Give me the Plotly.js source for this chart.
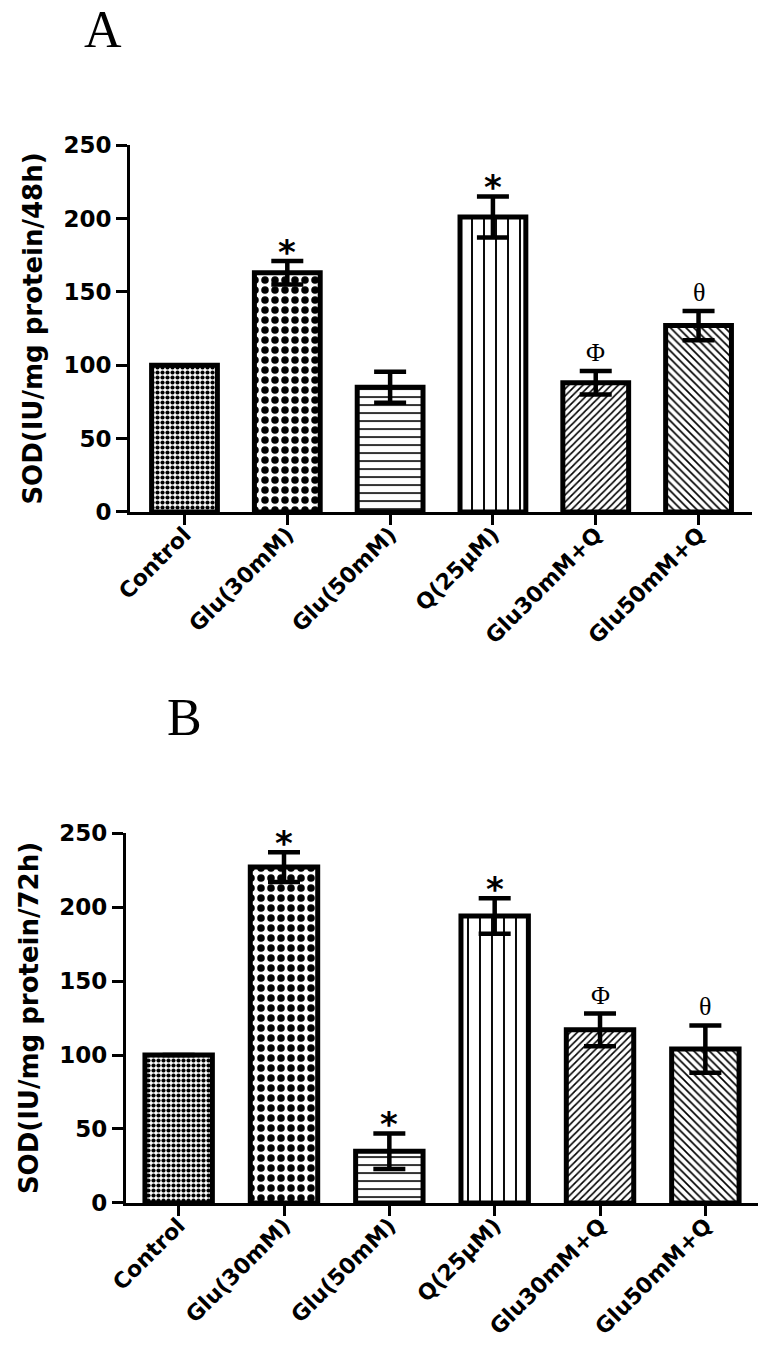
<!DOCTYPE html>
<html>
<head>
<meta charset="utf-8">
<script src="https://cdn.plot.ly/plotly-3.0.1.min.js"></script>
<style>html,body{margin:0;padding:0;background:#fff;}#chart{width:772px;height:1357px;}</style>
</head>
<body>
<div id="chart"></div>
<script>
// ---- data ----
var categories = ["Control", "Glu(30mM)", "Glu(50mM)", "Q(25\u03bcM)", "Glu30mM+Q", "Glu50mM+Q"];
var sod48 = [100, 163, 85, 201, 88, 127];
var err48 = [0, 8, 10.5, 14, 8, 10];
var sig48 = ["", "*", "", "*", "\u03a6", "\u03b8"];
var sod72 = [100, 227, 35, 194, 117, 104];
var err72 = [0, 10, 12, 12, 11, 16];
var sig72 = ["", "*", "*", "*", "\u03a6", "\u03b8"];
var yTicks = [0, 50, 100, 150, 200, 250];

// ---- styles ----
var patShapes = [".", ".", "-", "|", "/", "\\"];
var patSizes = [5, 10, 8, 12, 5, 5.5];
var patSolid = [0.55, 0.45, 0.2, 0.16, 0.32, 0.3];
var sans = "DejaVu Sans";
var serif = "Liberation Serif";

function barTrace(vals, errs, xa, ya) {
  return {
    type: "bar", x: categories, y: vals, xaxis: xa, yaxis: ya,
    width: 0.64,
    marker: {
      color: "white",
      line: {color: "black", width: 5},
      pattern: {shape: patShapes, size: patSizes, solidity: patSolid, fgcolor: "black", bgcolor: "white", fillmode: "replace"}
    },
    error_y: {type: "data", array: errs, visible: true, color: "black", thickness: 4.5, width: 16},
    hoverinfo: "skip"
  };
}

var data = [barTrace(sod48, err48, "x", "y"), barTrace(sod72, err72, "x2", "y2")];

function sigAnn(sigs, vals, errs, xr, yr) {
  var out = [];
  for (var i = 0; i < sigs.length; i++) {
    if (!sigs[i]) continue;
    var star = sigs[i] === "*";
    out.push({
      xref: xr, yref: yr, x: categories[i], y: vals[i] + errs[i],
      text: sigs[i], showarrow: false, xanchor: "center", yanchor: "bottom",
      yshift: star ? -13 : 2,
      font: star ? {family: sans, size: 34, color: "black", weight: "bold"} : {family: serif, size: 26, color: "black"}
    });
  }
  return out;
}

var axX = {
  type: "category", showline: true, linewidth: 3, linecolor: "black",
  ticks: "outside", ticklen: 10, tickwidth: 3, tickcolor: "black",
  tickangle: -45, showgrid: false, zeroline: false, ticklabelstandoff: -12,
  tickfont: {family: sans, size: 22, color: "black", weight: "bold"}
};
function axY(title) {
  return {
    range: [0, 250], tickvals: yTicks, ticktext: yTicks.map(String),
    showline: true, linewidth: 3, linecolor: "black",
    ticks: "outside", ticklen: 11, tickwidth: 3, tickcolor: "black",
    showgrid: false, zeroline: false,
    tickfont: {family: sans, size: 23, color: "black", weight: "bold"},
    title: {text: title, standoff: 14, font: {family: sans, size: 26, color: "black", weight: "bold"}}
  };
}

var layout = {
  width: 772, height: 1357,
  margin: {l: 0, r: 0, t: 0, b: 0},
  paper_bgcolor: "white", plot_bgcolor: "white",
  showlegend: false, bargap: 0.3,
  xaxis: Object.assign({}, axX, {domain: [0.1684, 0.9741], range: [-0.53, 5.52], anchor: "y"}),
  yaxis: Object.assign(axY("SOD(IU/mg protein/48h)"), {domain: [0.6227, 0.8931], anchor: "x"}),
  xaxis2: Object.assign({}, axX, {domain: [0.1632, 0.9819], range: [-0.5, 5.5], anchor: "y2"}),
  yaxis2: Object.assign(axY("SOD(IU/mg protein/72h)"), {domain: [0.1135, 0.3861], anchor: "x2"}),
  annotations: [
    {xref: "paper", yref: "paper", x: 0.1334, y: 0.9786, text: "A", showarrow: false,
     xanchor: "center", yanchor: "middle", font: {family: serif, size: 52, color: "black"}},
    {xref: "paper", yref: "paper", x: 0.2396, y: 0.4709, text: "B", showarrow: false,
     xanchor: "center", yanchor: "middle", font: {family: serif, size: 52, color: "black"}}
  ].concat(sigAnn(sig48, sod48, err48, "x", "y")).concat(sigAnn(sig72, sod72, err72, "x2", "y2"))
};

Plotly.newPlot("chart", data, layout, {staticPlot: true, displayModeBar: false});
</script>
</body>
</html>
